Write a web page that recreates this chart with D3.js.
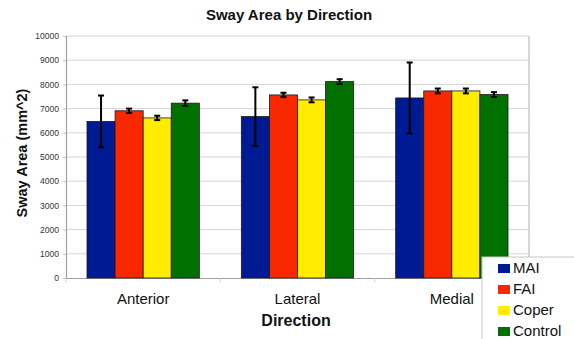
<!DOCTYPE html>
<html lang="en">
<head>
    <meta charset="utf-8">
    <script src="https://d3js.org/d3.v7.min.js"></script>
    <style>
        body { margin: 0; background: #fff; font-family: "Liberation Sans", Arial, sans-serif; }
    </style>
</head>
<body>
<script>
    // chart data
    const categories = ["Anterior", "Lateral", "Medial"];
    const series = ["MAI", "FAI", "Coper", "Control"];
    const colors = ["#001a94", "#fa2800", "#ffec00", "#007000"];
    const MAI = [6470, 6670, 7440];
    const FAI = [6910, 7565, 7730];
    const Coper = [6615, 7360, 7730];
    const Control = [7225, 8115, 7580];
    const errMAI = [1070, 1210, 1465];
    const errFAI = [90, 90, 100];
    const errCoper = [90, 100, 100];
    const errControl = [115, 100, 100];
    const yTicks = [0, 1000, 2000, 3000, 4000, 5000, 6000, 7000, 8000, 9000, 10000];

    const values = [MAI, FAI, Coper, Control];
    const errors = [errMAI, errFAI, errCoper, errControl];

    const width = 574, height = 339;
    const plotLeft = 66, plotRight = 529, plotTop = 36, plotBottom = 278;

    const svg = d3.select("body").append("svg")
        .attr("width", width)
        .attr("height", height);

    const x0 = d3.scaleBand().domain(categories).range([plotLeft, plotRight]);
    const pad = 21;
    const x1 = d3.scaleBand().domain(series).range([pad, x0.bandwidth() - pad]);
    const y = d3.scaleLinear().domain([0, 10000]).range([plotBottom, plotTop]);

    // gridlines
    svg.append("g")
        .selectAll("line")
        .data(yTicks.slice(1))
        .join("line")
        .attr("x1", plotLeft).attr("x2", plotRight)
        .attr("y1", d => y(d)).attr("y2", d => y(d))
        .attr("stroke", "#d4d4d4")
        .attr("stroke-width", 1);

    // plot frame (right side)
    svg.append("line")
        .attr("x1", plotRight).attr("x2", plotRight)
        .attr("y1", plotTop).attr("y2", plotBottom)
        .attr("stroke", "#c8c8c8").attr("stroke-width", 1.5);

    // y axis
    const yAxis = svg.append("g")
        .attr("transform", `translate(${plotLeft},0)`)
        .call(d3.axisLeft(y).tickValues(yTicks).tickFormat(d3.format("d")).tickSize(3).tickPadding(4));
    yAxis.select(".domain").attr("stroke", "#a0a0a0").attr("stroke-width", 1.2);
    yAxis.selectAll(".tick line").attr("stroke", "#c0c0c0");
    yAxis.selectAll("text")
        .attr("font-size", 8.5)
        .attr("font-family", "Liberation Sans, Arial, sans-serif")
        .attr("fill", "#333");

    // x axis
    const xAxis = svg.append("g")
        .attr("transform", `translate(0,${plotBottom})`)
        .call(d3.axisBottom(x0).tickSize(0).tickPadding(15));
    xAxis.select(".domain").attr("stroke", "#a0a0a0").attr("stroke-width", 1.2);
    xAxis.selectAll("text")
        .attr("font-size", 15)
        .attr("font-family", "Liberation Sans, Arial, sans-serif")
        .attr("fill", "#111");
    // category boundary ticks
    svg.append("g")
        .selectAll("line")
        .data(categories.concat(["end"]))
        .join("line")
        .attr("x1", (d, i) => i < categories.length ? x0(d) : plotRight)
        .attr("x2", (d, i) => i < categories.length ? x0(d) : plotRight)
        .attr("y1", plotBottom).attr("y2", plotBottom + 4)
        .attr("stroke", "#d0d0d0");

    // bars
    const rows = [];
    categories.forEach((c, ci) => {
        series.forEach((s, si) => {
            rows.push({ cat: c, s: s, si: si, v: values[si][ci], e: errors[si][ci] });
        });
    });

    const g = svg.append("g");
    g.selectAll("rect")
        .data(rows)
        .join("rect")
        .attr("x", d => x0(d.cat) + x1(d.s))
        .attr("y", d => y(d.v))
        .attr("width", x1.bandwidth())
        .attr("height", d => plotBottom - y(d.v))
        .attr("fill", d => colors[d.si])
        .attr("stroke", "#1a1a1a")
        .attr("stroke-width", 0.8);

    // error bars
    const eb = svg.append("g").attr("stroke", "#000").attr("stroke-width", 2);
    rows.forEach(d => {
        const cx = x0(d.cat) + x1(d.s) + x1.bandwidth() / 2;
        eb.append("line").attr("x1", cx).attr("x2", cx)
            .attr("y1", y(d.v + d.e)).attr("y2", y(d.v - d.e));
        eb.append("line").attr("x1", cx - 3).attr("x2", cx + 3)
            .attr("y1", y(d.v + d.e)).attr("y2", y(d.v + d.e));
        eb.append("line").attr("x1", cx - 3).attr("x2", cx + 3)
            .attr("y1", y(d.v - d.e)).attr("y2", y(d.v - d.e));
    });

    // titles
    svg.append("text")
        .attr("x", 289).attr("y", 20)
        .attr("text-anchor", "middle")
        .attr("font-size", 15).attr("font-weight", "bold")
        .attr("fill", "#111")
        .text("Sway Area by Direction");

    svg.append("text")
        .attr("transform", "translate(27,153) rotate(-90)")
        .attr("text-anchor", "middle")
        .attr("font-size", 14.5).attr("font-weight", "bold")
        .attr("fill", "#111")
        .text("Sway Area (mm^2)");

    svg.append("text")
        .attr("x", 296).attr("y", 326)
        .attr("text-anchor", "middle")
        .attr("font-size", 16).attr("font-weight", "bold")
        .attr("fill", "#111")
        .text("Direction");

    // legend
    const lg = svg.append("g").attr("transform", "translate(482,257)");
    lg.append("rect")
        .attr("x", 0).attr("y", 0)
        .attr("width", 100).attr("height", 90)
        .attr("fill", "#fff")
        .attr("stroke", "#c8c8c8");
    series.forEach((s, i) => {
        lg.append("rect")
            .attr("x", 16).attr("y", 7 + i * 21)
            .attr("width", 12).attr("height", 9)
            .attr("fill", colors[i]);
        lg.append("text")
            .attr("x", 31).attr("y", 16 + i * 21)
            .attr("font-size", 15)
            .attr("fill", "#111")
            .text(s);
    });
</script>
</body>
</html>
